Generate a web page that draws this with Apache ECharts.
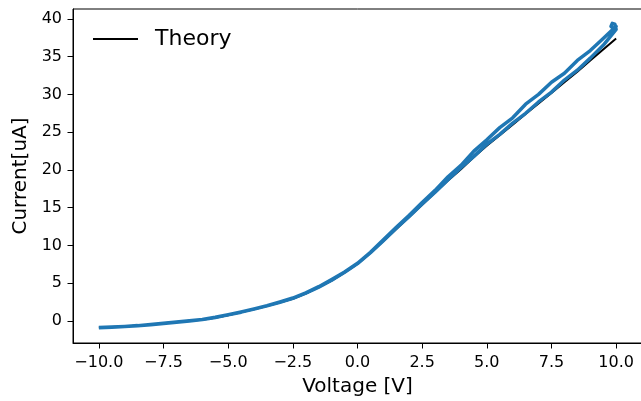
<!DOCTYPE html>
<html>
<head>
<meta charset="utf-8">
<script src="https://cdn.jsdelivr.net/npm/echarts@6/dist/echarts.min.js"></script>
<style>
  html, body { margin: 0; padding: 0; background: #fff; }
  #chart { width: 641px; height: 401px; }
</style>
</head>
<body>
<div id="chart"></div>
<script>
// 电压扫描点 (V)
const voltage = [-10, -9.5, -9, -8.5, -8, -7.5, -7, -6.5, -6, -5.5, -5, -4.5, -4, -3.5, -3, -2.5, -2, -1.5, -1, -0.5,
    0, 0.5, 1, 1.5, 2, 2.5, 3, 3.5, 4, 4.5, 5, 5.5, 6, 6.5, 7, 7.5, 8, 8.5, 9, 9.5, 10];

// 理论曲线 (uA)
const theory = [-0.85, -0.78, -0.7, -0.6, -0.48, -0.3, -0.12, 0.03, 0.18, 0.45, 0.78, 1.15, 1.55, 2.0, 2.45, 2.95, 3.65, 4.45, 5.35, 6.4,
    7.55, 9.0, 10.6, 12.2, 13.8, 15.4, 17.0, 18.6, 20.1, 21.7, 23.2, 24.6, 26.0, 27.4, 28.8, 30.2, 31.6, 33.0, 34.5, 35.95, 37.4];

// 正向扫描测量值 (下面那条)
const currentUp = [-0.88, -0.8, -0.72, -0.62, -0.5, -0.32, -0.15, 0.02, 0.2, 0.48, 0.82, 1.18, 1.6, 2.02, 2.5, 3.0, 3.7, 4.5, 5.4, 6.45,
    7.6, 9.05, 10.65, 12.3, 13.85, 15.5, 17.05, 18.7, 20.3, 21.8, 23.4, 24.7, 26.2, 27.5, 29.0, 30.3, 31.9, 33.2, 34.8, 36.5, 38.6];

// 反向扫描测量值 (上面那条)，按电压升序排列
const currentDown = [-0.86, -0.78, -0.7, -0.6, -0.46, -0.3, -0.12, 0.05, 0.22, 0.5, 0.85, 1.22, 1.62, 2.05, 2.55, 3.05, 3.75, 4.55, 5.5, 6.5,
    7.65, 9.1, 10.75, 12.4, 14.0, 15.7, 17.3, 19.1, 20.6, 22.5, 24.0, 25.6, 26.9, 28.7, 30.0, 31.6, 32.8, 34.5, 35.8, 37.4, 39.0];

// 顶端的小回环
const loopV = [9.95, 9.85, 9.8, 9.9, 10];
const loopI = [39.3, 39.4, 39.0, 38.7, 39.0];

// 刻度
const xTicks = [-10, -7.5, -5, -2.5, 0, 2.5, 5, 7.5, 10];
const yTicks = [0, 5, 10, 15, 20, 25, 30, 35, 40];

const FONT = 'DejaVu Sans';

// 拼成一条连续的扫描曲线: 上扫 -> 回环 -> 下扫
const sweep = [];
voltage.forEach((v, i) => sweep.push([v, currentUp[i]]));
loopV.forEach((v, i) => sweep.push([v, loopI[i]]));
for (let i = voltage.length - 1; i >= 0; i--) {
    sweep.push([voltage[i], currentDown[i]]);
}

const theoryData = voltage.map((v, i) => [v, theory[i]]);

const myChart = echarts.init(document.getElementById('chart'), null, { renderer: 'canvas' });

const option = {
    animation: false,
    backgroundColor: '#fff',
    textStyle: { fontFamily: FONT },
    grid: {
        left: 73,
        top: 9,
        width: 569,
        height: 334,
        show: true,
        borderColor: '#000',
        borderWidth: 1,
        outerBoundsMode: 'none'
    },
    legend: {
        data: [{ name: 'Theory', icon: 'rect' }],
        left: 93,
        top: 28,
        padding: 0,
        itemWidth: 45,
        itemHeight: 2,
        textStyle: { fontFamily: FONT, fontSize: 22, color: '#000', padding: [0, 0, 0, 12] }
    },
    xAxis: {
        type: 'value',
        min: -11,
        max: 11,
        name: 'Voltage [V]',
        nameLocation: 'middle',
        nameGap: 34,
        nameTextStyle: { fontFamily: FONT, fontSize: 20, color: '#000' },
        axisLine: { show: true, onZero: false, lineStyle: { color: '#000', width: 1 } },
        axisTick: { show: true, length: 5.5, customValues: xTicks, lineStyle: { color: '#000' } },
        axisLabel: {
            customValues: xTicks,
            fontFamily: FONT,
            fontSize: 16,
            color: '#000',
            margin: 12,
            formatter: v => v.toFixed(1).replace('-', '\u2212')
        },
        splitLine: { show: false }
    },
    yAxis: {
        type: 'value',
        min: -2.9,
        max: 41.3,
        name: 'Current[uA]',
        nameLocation: 'middle',
        nameGap: 39,
        nameTextStyle: { fontFamily: FONT, fontSize: 20, color: '#000' },
        axisLine: { show: true, onZero: false, lineStyle: { color: '#000', width: 1 } },
        axisTick: { show: true, length: 5.5, customValues: yTicks, lineStyle: { color: '#000' } },
        axisLabel: {
            customValues: yTicks,
            fontFamily: FONT,
            fontSize: 16,
            color: '#000',
            margin: 11
        },
        splitLine: { show: false }
    },
    series: [
        {
            name: 'Theory',
            type: 'line',
            data: theoryData,
            symbol: 'none',
            z: 2,
            lineStyle: { color: '#000', width: 2 },
            itemStyle: { color: '#000' }
        },
        {
            name: 'Data',
            type: 'line',
            data: sweep,
            symbol: 'none',
            z: 3,
            lineStyle: { color: '#1f77b4', width: 3.5, join: 'round' },
            itemStyle: { color: '#1f77b4' }
        }
    ]
};

myChart.setOption(option);
</script>
</body>
</html>
